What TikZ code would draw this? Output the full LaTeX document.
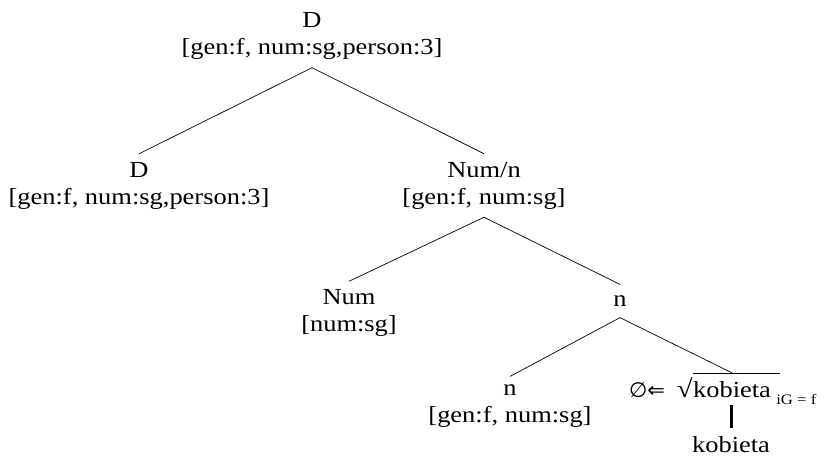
\documentclass[tikz,border=0pt]{standalone}
\usepackage{fontspec}
\setmainfont{Liberation Serif}[FakeStretch=1.15]
\newfontfamily\symfont{DejaVu Sans}
\usetikzlibrary{positioning}
\tikzset{
    cat/.style = {align=center, inner sep=8pt, font=\fontsize{23}{27}\selectfont},
    catn/.style = {cat, inner sep=11pt},
    word/.style = {inner xsep=0pt, inner ysep=8pt, font=\fontsize{23}{27}\selectfont},
    subsc/.style = {inner xsep=5pt, inner ysep=0pt, font=\fontsize{14.5}{17}\selectfont},
    branch/.style = {line width=0.7pt},
    link/.style = {line width=3pt}
}

\begin{document}
\begin{tikzpicture}[x=1pt,y=-1pt]
\useasboundingbox (0,0) rectangle (827,456);
\node[cat] at (312,36) (r) {D\\{}[gen:f, num:sg,person:3]};
\node[cat] at (139,185.5) (d) {D\\{}[gen:f, num:sg,person:3]};
\node[cat] at (484,185.5) (numn) {Num/n\\{}[gen:f, num:sg]};
\node[cat] at (349,313) (num) {Num\\{}[num:sg]};
\node[catn] at (620,301) (n) {n};
\node[cat] at (510,406) (nlow) {n\\{}[gen:f, num:sg]};
\node[word, anchor=base] at (732,397) (kob) {kobieta};
\node[word, anchor=base east] at (kob.base west) (pre) {{\symfont\fontsize{21}{24}\selectfont ∅⇐}\hspace{12pt}{\fontsize{25}{27}\selectfont √}};
\node[subsc, anchor=base west] at ([yshift=-7pt]kob.base east) (sub) {iG = f};
\node[word, anchor=base] at (731,452) (kobl) {kobieta};
%
\draw[branch] (kob.north west) -- ([xshift=9pt]kob.north east);
\draw[branch] (r.south) edge (d.north) edge (numn.north);
\draw[branch] (numn.south) edge (num.north) edge (n.north);
\draw[branch] (n.south) edge (nlow.north) edge (kob.north);
\draw[link] (kobl.north) -- (kobl.north |- kob.south);
\end{tikzpicture}
\end{document}
